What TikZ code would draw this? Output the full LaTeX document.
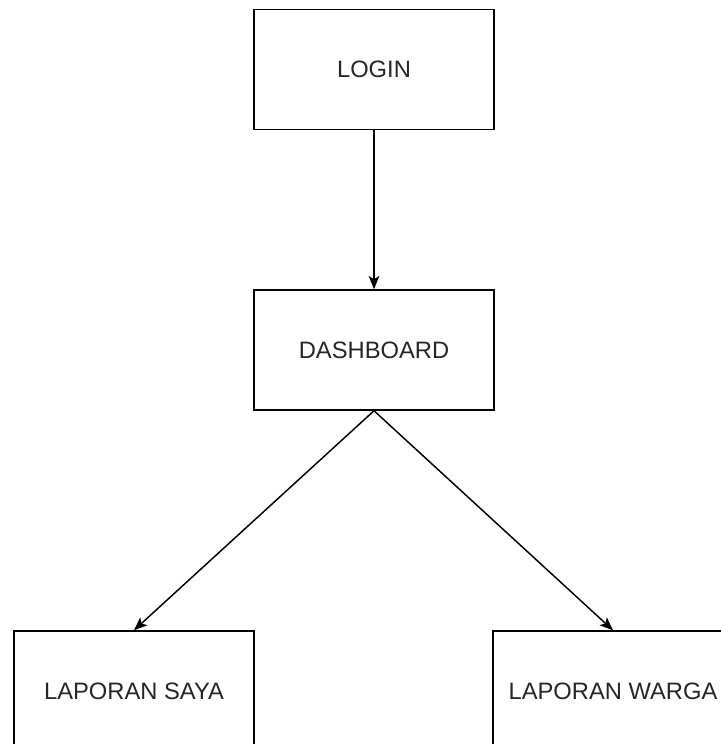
\documentclass[tikz,border=0pt]{standalone}
\usepackage{fontspec}
\setmainfont{Liberation Sans}
\usetikzlibrary{arrows.meta}
\begin{document}
\begin{tikzpicture}[x=0.75pt, y=0.75pt,
        every node/.style={draw, line width=1.1pt, fill=white, minimum width=180pt, minimum height=90pt, inner sep=0pt, text=black!85, font=\fontsize{17.8}{21}\selectfont},
        link/.style={draw, line width=1.1pt, -{Stealth[length=10pt, width=8pt, inset=2.5pt]}}]
        \useasboundingbox (0,0) rectangle (721,-744);
        \coordinate (L) at (374,-69.5);
        \coordinate (D) at (374,-350);
        \coordinate (S) at (134,-691);
        \coordinate (W) at (613,-691);
        \node (login) at (L) {LOGIN};
        \node (dashboard) at (D) {DASHBOARD};
        \node (saya) at (S) {LAPORAN SAYA};
        \node (warga) at (W) {LAPORAN WARGA};
        \draw[link] (login.south)--(dashboard.north);
        \draw[link] (dashboard.south)--(saya.north);
        \draw[link] (dashboard.south)--(warga.north);
    \end{tikzpicture}
\end{document}
